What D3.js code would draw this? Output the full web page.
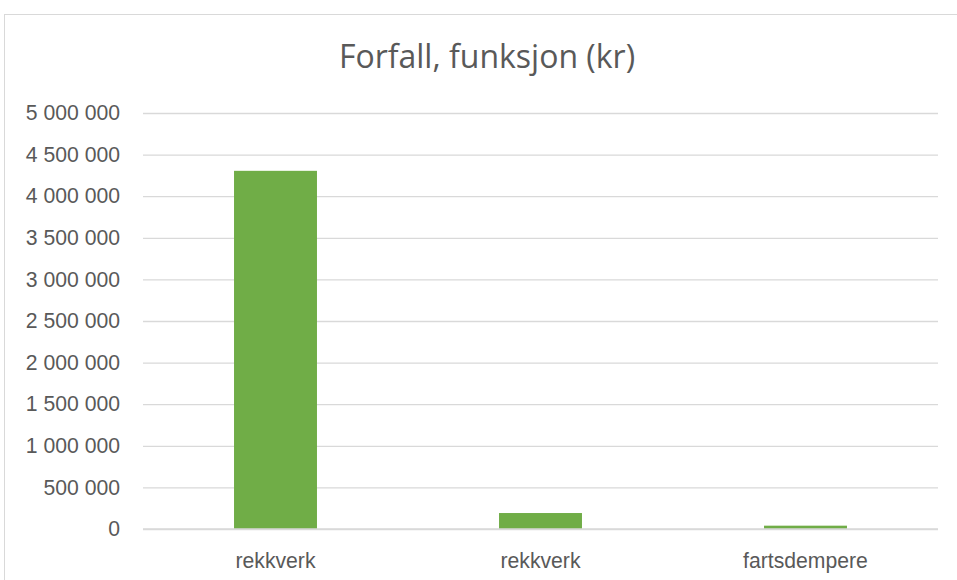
<!DOCTYPE html>
<html>
<head>
<meta charset="utf-8">
<script src="https://cdn.jsdelivr.net/npm/d3@7"></script>
<style>
  body { margin: 0; background: #fff; }
  svg { display: block; font-family: "Open Sans", Lato, sans-serif; }
</style>
</head>
<body>
<div id="chart"></div>
<script>
// data
const categories = ["rekkverk", "rekkverk", "fartsdempere"];
const values = [4305000, 192000, 40000];
const yTicks = [0, 500000, 1000000, 1500000, 2000000, 2500000, 3000000, 3500000, 4000000, 4500000, 5000000];
const title = "Forfall, funksjon (kr)";

const width = 957,
  height = 580,
  margin = {top: 113, right: 19, bottom: 51, left: 143};

const svg = d3.select("#chart")
  .append("svg")
  .attr("width", width)
  .attr("height", height);

// chart frame
svg.append("rect")
  .attr("x", 4.5).attr("y", 14.5)
  .attr("width", 970).attr("height", 600)
  .attr("fill", "none")
  .attr("stroke", "#d9d9d9");

const x = d3.scaleBand([0, 1, 2], [margin.left, width - margin.right])
  .paddingInner(0.687)
  .paddingOuter(0.3435);

const y = d3.scaleLinear([0, 5000000], [height - margin.bottom, margin.top]);

const fmt = v => d3.format(",")(v).replace(/,/g, " ");

// gridlines + y labels
svg.append("g")
  .attr("transform", `translate(${margin.left},0)`)
  .call(d3.axisLeft(y).tickValues(yTicks).tickFormat(fmt)
    .tickSize(-(width - margin.left - margin.right)).tickPadding(23))
  .call(g => g.select(".domain").remove())
  .call(g => g.selectAll(".tick line").attr("stroke", "#d9d9d9").attr("stroke-width", 1.3))
  .call(g => g.selectAll(".tick text").attr("fill", "#595959").style("font-size", "21.2px"));

// bars
svg.append("g")
  .selectAll("rect")
  .data(values)
  .join("rect")
  .attr("x", (d, i) => x(i))
  .attr("y", d => y(d))
  .attr("width", x.bandwidth())
  .attr("height", d => y(0) - y(d))
  .attr("fill", "#70ad47");

// x labels
svg.append("g")
  .attr("transform", `translate(0,${height - margin.bottom})`)
  .call(d3.axisBottom(x).tickFormat(i => categories[i]).tickSize(0).tickPadding(24))
  .call(g => g.select(".domain").remove())
  .call(g => g.selectAll(".tick text").attr("fill", "#595959").style("font-size", "21.2px"));

// baseline
svg.append("line")
  .attr("x1", margin.left).attr("x2", width - margin.right)
  .attr("y1", y(0)).attr("y2", y(0))
  .attr("stroke", "#d9d9d9").attr("stroke-width", 1.3);

svg.append("text")
  .attr("x", 487).attr("y", 68)
  .attr("text-anchor", "middle")
  .attr("fill", "#595959")
  .style("font-size", "32px")
  .text(title);
</script>
</body>
</html>
